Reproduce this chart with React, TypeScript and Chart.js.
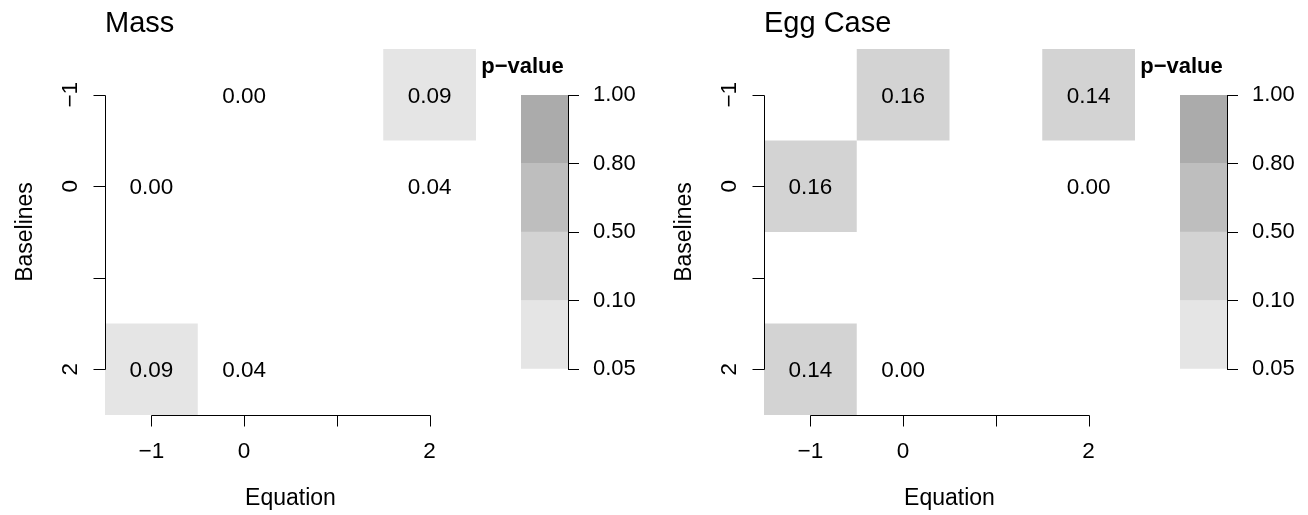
import React, { useEffect, useRef } from 'react';
import { Chart, registerables } from 'chart.js';

Chart.register(...registerables);

// ---------- data ----------
const equationValues = [-1, 0, 1, 2];
const baselineValues = [-1, 0, 1, 2];
const xTickLabels = ['\u22121', '0', '', '2'];
const yTickLabels = ['\u22121', '0', '', '2'];

// rows = Baselines (-1, 0, 1, 2), columns = Equation (-1, 0, 1, 2)
const massRowM1 = [null, 0.0, null, 0.09];
const massRow0 = [0.0, null, null, 0.04];
const massRow1 = [null, null, null, null];
const massRow2 = [0.09, 0.04, null, null];

const eggRowM1 = [null, 0.16, null, 0.14];
const eggRow0 = [0.16, null, null, 0.0];
const eggRow1 = [null, null, null, null];
const eggRow2 = [0.14, 0.0, null, null];

const panelTitles = ['Mass', 'Egg Case'];
const xAxisTitle = 'Equation';
const yAxisTitle = 'Baselines';
const legendTitle = 'p\u2212value';

const pBreaks = [0.05, 0.1, 0.5, 0.8, 1.0];
const pBreakLabels = ['0.05', '0.10', '0.50', '0.80', '1.00'];
const pColors = ['#e5e5e5', '#d3d3d3', '#bebebe', '#ababab'];

const massMatrix = [massRowM1, massRow0, massRow1, massRow2];
const eggMatrix = [eggRowM1, eggRow0, eggRow1, eggRow2];

// ---------- styling / layout ----------
const FONT = "'Liberation Sans', Arial, Helvetica, sans-serif";
const BASE = 22.5;
const LAB = 23;
const CBF = 22;
const TITLE = 29;
const H = 515;
const MAIN_W = 500;
const CB_X = 470;
const CB_PAD = 51;
const CB_W = 184;
const PANEL_X = [0, 659];

type Cell = { x: number; y: number; v: number };

function toCells(matrix: (number | null)[][]): Cell[] {
  const out: Cell[] = [];
  matrix.forEach((row, i) => {
    row.forEach((v, j) => {
      if (v !== null && v !== undefined) out.push({ x: equationValues[j], y: baselineValues[i], v });
    });
  });
  return out;
}

function colorFor(v: number): string | null {
  for (let i = 0; i < pColors.length; i++) {
    if (v >= pBreaks[i] && v <= pBreaks[i + 1]) return pColors[i];
  }
  return null;
}

function heatPlugin(title: string) {
  return {
    id: 'heat',
    afterDraw(chart: any) {
      const ctx = chart.ctx as CanvasRenderingContext2D;
      const { left, right, top, bottom } = chart.chartArea;
      const xs = chart.scales.x;
      const ys = chart.scales.y;
      ctx.save();
      // cells
      const data = chart.data.datasets[0].data as Cell[];
      for (const d of data) {
        const x0 = xs.getPixelForValue(d.x - 0.5);
        const x1 = xs.getPixelForValue(d.x + 0.5);
        const y0 = ys.getPixelForValue(d.y - 0.5);
        const y1 = ys.getPixelForValue(d.y + 0.5);
        const c = colorFor(d.v);
        if (c) {
          ctx.fillStyle = c;
          ctx.fillRect(Math.min(x0, x1), Math.min(y0, y1), Math.abs(x1 - x0), Math.abs(y1 - y0));
        }
      }
      ctx.fillStyle = '#000';
      ctx.font = `${BASE}px ${FONT}`;
      ctx.textAlign = 'center';
      ctx.textBaseline = 'alphabetic';
      for (const d of data) {
        const cx = xs.getPixelForValue(d.x);
        const cy = ys.getPixelForValue(d.y);
        ctx.fillText(d.v.toFixed(2), cx, cy + 0.36 * BASE);
      }

      // axes
      ctx.strokeStyle = '#000';
      ctx.lineWidth = 1;
      const yb = Math.round(bottom) + 0.5;
      const xFirst = Math.round(xs.getPixelForValue(equationValues[0])) + 0.5;
      const xLast = Math.round(xs.getPixelForValue(equationValues[equationValues.length - 1])) + 0.5;
      ctx.beginPath();
      ctx.moveTo(xFirst, yb);
      ctx.lineTo(xLast, yb);
      equationValues.forEach((v) => {
        const p = Math.round(xs.getPixelForValue(v)) + 0.5;
        ctx.moveTo(p, yb);
        ctx.lineTo(p, yb + 11);
      });
      const xl = Math.round(left) + 0.5;
      const yFirst = Math.round(ys.getPixelForValue(baselineValues[0])) + 0.5;
      const yLast = Math.round(ys.getPixelForValue(baselineValues[baselineValues.length - 1])) + 0.5;
      ctx.moveTo(xl, yFirst);
      ctx.lineTo(xl, yLast);
      baselineValues.forEach((v) => {
        const p = Math.round(ys.getPixelForValue(v)) + 0.5;
        ctx.moveTo(xl, p);
        ctx.lineTo(xl - 12, p);
      });
      ctx.stroke();

      // tick labels
      ctx.font = `${BASE}px ${FONT}`;
      ctx.textAlign = 'center';
      equationValues.forEach((v, i) => {
        ctx.fillText(xTickLabels[i], xs.getPixelForValue(v), bottom + 43);
      });
      baselineValues.forEach((v, i) => {
        ctx.save();
        ctx.translate(left - 28, ys.getPixelForValue(v));
        ctx.rotate(-Math.PI / 2);
        ctx.fillText(yTickLabels[i], 0, 0);
        ctx.restore();
      });

      // axis titles
      ctx.font = `${LAB}px ${FONT}`;
      ctx.fillText(xAxisTitle, (left + right) / 2, bottom + 90);
      ctx.save();
      ctx.translate(left - 73, (top + bottom) / 2);
      ctx.rotate(-Math.PI / 2);
      ctx.fillText(yAxisTitle, 0, 0);
      ctx.restore();

      // main title
      ctx.font = `${TITLE}px ${FONT}`;
      ctx.textAlign = 'left';
      ctx.fillText(title, left, top - 17);
      ctx.restore();
    },
  };
}

const legendTitlePlugin = {
  id: 'legendTitle',
  afterDraw(chart: any) {
    const ctx = chart.ctx as CanvasRenderingContext2D;
    const { left, top } = chart.chartArea;
    ctx.save();
    ctx.fillStyle = '#000';
    ctx.font = `bold ${CBF}px ${FONT}`;
    ctx.textAlign = 'center';
    ctx.textBaseline = 'alphabetic';
    ctx.fillText(legendTitle, left + 1.5, top - 22);
    ctx.restore();
  },
};

function makeMain(canvas: HTMLCanvasElement, matrix: (number | null)[][], title: string) {
  return new Chart(canvas, {
    type: 'scatter',
    data: { datasets: [{ data: toCells(matrix) as any, pointRadius: 0, pointHoverRadius: 0 }] },
    options: {
      animation: false,
      responsive: false,
      devicePixelRatio: 1,
      events: [],
      layout: { padding: { left: 105, right: MAIN_W - 476, top: 49, bottom: H - 415 } },
      plugins: { legend: { display: false }, tooltip: { enabled: false }, title: { display: false } },
      scales: {
        x: { type: 'linear', display: false, min: -1.5, max: 2.5 },
        y: { type: 'linear', display: false, min: -1.5, max: 2.5, reverse: true },
      },
    } as any,
    plugins: [heatPlugin(title)],
  });
}

function makeColorbar(canvas: HTMLCanvasElement) {
  return new Chart(canvas, {
    type: 'bar',
    data: {
      labels: ['p'],
      datasets: pColors.map((c) => ({
        data: [1],
        backgroundColor: c,
        borderWidth: 0,
        barPercentage: 1,
        categoryPercentage: 1,
      })),
    },
    options: {
      animation: false,
      responsive: false,
      devicePixelRatio: 1,
      events: [],
      layout: { padding: { left: CB_PAD, right: 0, top: 95, bottom: H - 369 } },
      plugins: { legend: { display: false }, tooltip: { enabled: false }, title: { display: false } },
      scales: {
        x: { type: 'category', display: false, stacked: true },
        y: {
          type: 'linear',
          position: 'right',
          stacked: true,
          min: 0,
          max: pColors.length,
          afterBuildTicks: (s: any) => {
            s.ticks = pBreakLabels.map((_, i) => ({ value: i }));
          },
          afterFit: (s: any) => {
            s.width = CB_W - CB_PAD - 47;
          },
          ticks: {
            autoSkip: false,
            padding: 14,
            color: '#000',
            font: { family: FONT, size: CBF },
            callback: (_v: any, i: number) => pBreakLabels[i],
          },
          grid: { drawOnChartArea: false, drawTicks: true, tickLength: 11, color: '#000', lineWidth: 1 },
          border: { display: true, color: '#000', width: 1 },
        },
      },
    } as any,
    plugins: [legendTitlePlugin],
  });
}

export default function App() {
  const m0 = useRef<HTMLCanvasElement>(null);
  const m1 = useRef<HTMLCanvasElement>(null);
  const c0 = useRef<HTMLCanvasElement>(null);
  const c1 = useRef<HTMLCanvasElement>(null);

  useEffect(() => {
    const charts = [
      makeMain(m0.current!, massMatrix, panelTitles[0]),
      makeMain(m1.current!, eggMatrix, panelTitles[1]),
      makeColorbar(c0.current!),
      makeColorbar(c1.current!),
    ];
    return () => charts.forEach((c) => c.destroy());
  }, []);

  const abs = (x: number, w: number): React.CSSProperties => ({
    position: 'absolute',
    left: x,
    top: 0,
    width: w,
    height: H,
    display: 'block',
  });

  return (
    <div
      style={{
        position: 'absolute',
        left: 0,
        top: 0,
        width: 1308,
        height: H,
        overflow: 'hidden',
        background: '#fff',
      }}
    >
      <canvas ref={m0} width={MAIN_W} height={H} style={abs(PANEL_X[0], MAIN_W)} />
      <canvas ref={c0} width={CB_W} height={H} style={abs(PANEL_X[0] + CB_X, CB_W)} />
      <canvas ref={m1} width={MAIN_W} height={H} style={abs(PANEL_X[1], MAIN_W)} />
      <canvas ref={c1} width={CB_W} height={H} style={abs(PANEL_X[1] + CB_X, CB_W)} />
    </div>
  );
}
